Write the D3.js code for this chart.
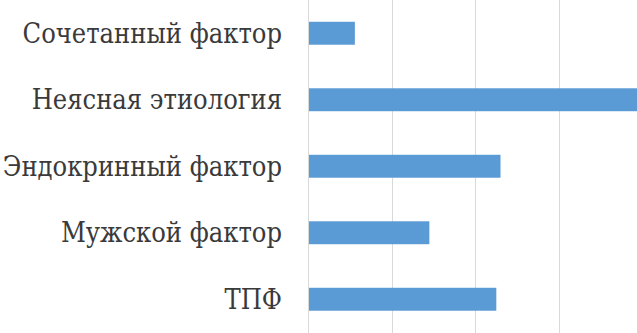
<!DOCTYPE html>
<html>
<head>
<meta charset="utf-8">
<script src="https://cdn.jsdelivr.net/npm/d3@7"></script>
<style>
  html, body { margin: 0; padding: 0; background: #fff; overflow: hidden; }
  svg { display: block; }
  .label { font-family: 'DejaVu Serif Condensed', 'DejaVu Serif', serif; font-stretch: condensed; font-size: 27px; fill: #3a3a3a; }
</style>
</head>
<body>
<div id="chart"></div>
<script>
// categories, top to bottom
const categories = ['Сочетанный фактор', 'Неясная этиология', 'Эндокринный фактор', 'Мужской фактор', 'ТПФ'];
const values = [5.6, 41, 23, 14.5, 22.5];
const gridTicks = [0, 10, 20, 30, 40];

const width = 637;
const height = 333;
const margin = { left: 308 };

const svg = d3.select('#chart')
    .append('svg')
    .attr('width', width)
    .attr('height', height);

// x: 0 at the axis, one gridline every 10 units
const x = d3.scaleLinear()
    .domain([0, 40])
    .range([margin.left, margin.left + 4 * 83.7]);

const y = d3.scaleBand()
    .domain(categories)
    .range([0, 332.5])
    .paddingInner(0.655)
    .paddingOuter(0.3275);

// gridlines
svg.append('g')
    .selectAll('line')
    .data(gridTicks)
    .join('line')
    .attr('x1', d => Math.round(x(d)) + 0.5)
    .attr('x2', d => Math.round(x(d)) + 0.5)
    .attr('y1', 0)
    .attr('y2', height)
    .attr('stroke', '#d9d9d9')
    .attr('stroke-width', 1);

// bars
svg.append('g')
    .selectAll('rect')
    .data(categories)
    .join('rect')
    .attr('x', x(0) + 1)
    .attr('y', d => y(d))
    .attr('width', (d, i) => x(values[i]) - x(0) - 1)
    .attr('height', y.bandwidth())
    .attr('fill', '#5b9bd5');

// category labels
svg.append('g')
    .selectAll('text')
    .data(categories)
    .join('text')
    .attr('class', 'label')
    .attr('x', 282)
    .attr('y', d => y(d) + y.bandwidth() / 2)
    .attr('dy', '0.36em')
    .attr('text-anchor', 'end')
    .text(d => d);
</script>
</body>
</html>
